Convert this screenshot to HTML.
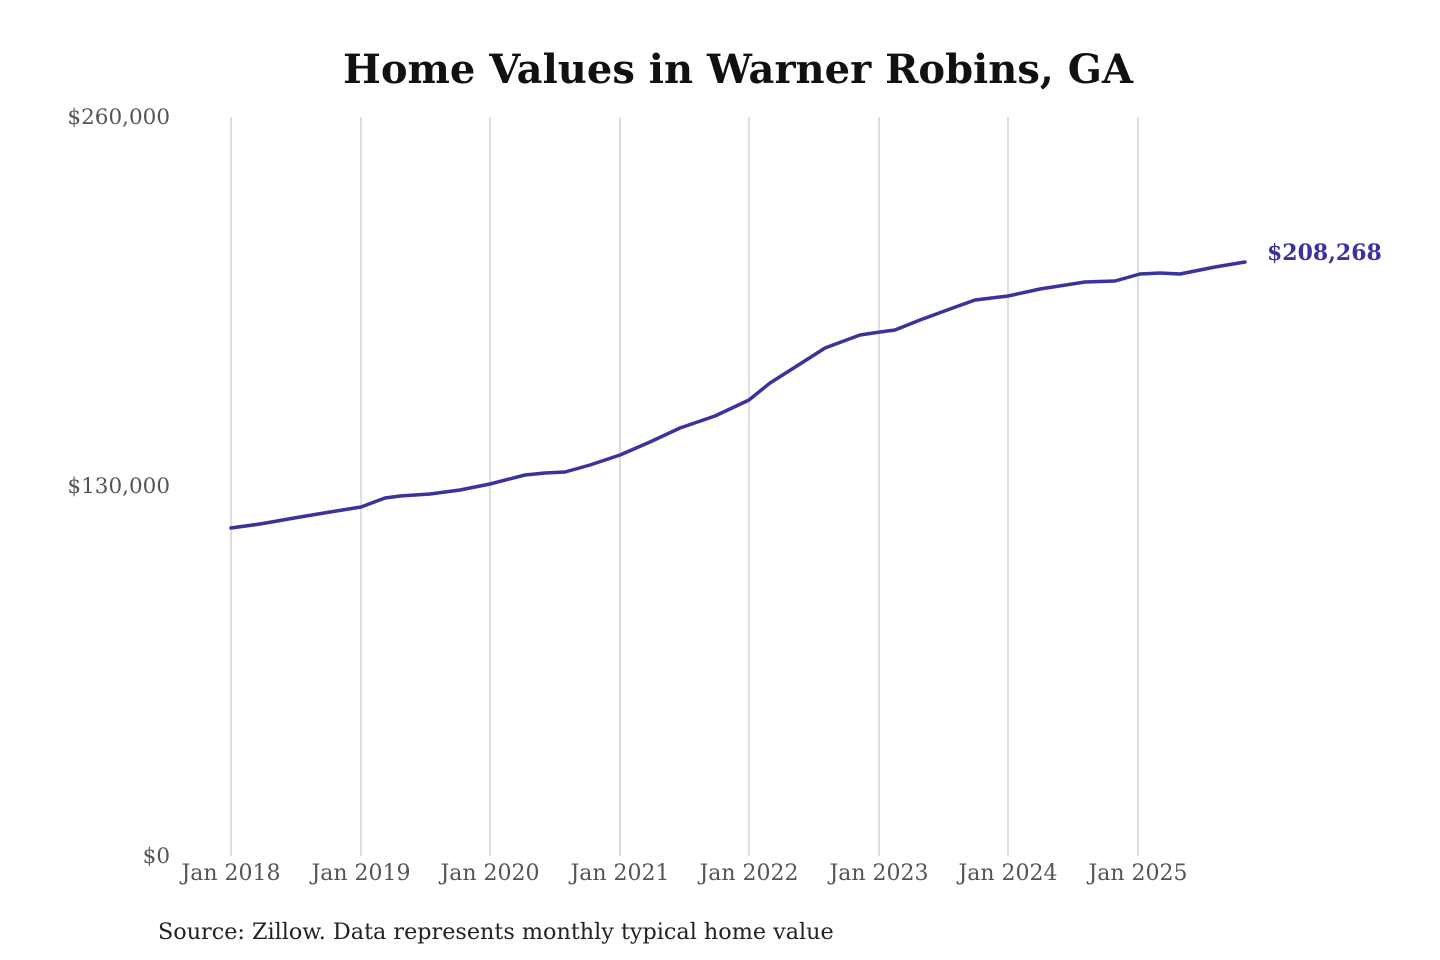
<!DOCTYPE html>
<html><head><meta charset="utf-8"><style>
html,body{margin:0;padding:0;background:#fff;}
svg{display:block;}
</style></head><body>
<svg width="1440" height="960" xmlns="http://www.w3.org/2000/svg" font-family="'DejaVu Serif','Liberation Serif',serif">
<rect width="1440" height="960" fill="#fff"/>
<text x="738" y="83" text-anchor="middle" font-size="40" font-weight="bold" fill="#111" textLength="790" lengthAdjust="spacingAndGlyphs">Home Values in Warner Robins, GA</text>
<g stroke="#c8c8c8" stroke-width="1.2">
<line x1="231" y1="117" x2="231" y2="856"/>
<line x1="361" y1="117" x2="361" y2="856"/>
<line x1="490" y1="117" x2="490" y2="856"/>
<line x1="620" y1="117" x2="620" y2="856"/>
<line x1="749" y1="117" x2="749" y2="856"/>
<line x1="879" y1="117" x2="879" y2="856"/>
<line x1="1008" y1="117" x2="1008" y2="856"/>
<line x1="1138" y1="117" x2="1138" y2="856"/>
</g>
<g font-size="21.5" fill="#555" text-anchor="end">
<text x="170" y="124">$260,000</text>
<text x="170" y="493">$130,000</text>
<text x="170" y="863">$0</text>
</g>
<g font-size="22" fill="#555" text-anchor="middle">
<text x="231" y="880">Jan 2018</text>
<text x="361" y="880">Jan 2019</text>
<text x="490" y="880">Jan 2020</text>
<text x="620" y="880">Jan 2021</text>
<text x="749" y="880">Jan 2022</text>
<text x="879" y="880">Jan 2023</text>
<text x="1008" y="880">Jan 2024</text>
<text x="1138" y="880">Jan 2025</text>
</g>
<polyline fill="none" stroke="#3a339b" stroke-width="3.5" stroke-linejoin="round" stroke-linecap="round"
points="231,528 260,524 300,517 330,512 361,507 385,498 400,496 430,494 460,490 490,484 525,475 545,473 565,472 590,465 620,455 650,442 680,428 715,416 749,400 770,383 800,364 825,348 860,335 880,332 895,330 920,320 950,309 975,300 1008,296 1040,289 1085,282 1115,281 1140,274 1160,273 1180,274 1215,267 1245,262"/>
<text x="1267" y="260" font-size="22" font-weight="bold" fill="#3a339b">$208,268</text>
<text x="158" y="939" font-size="22.3" fill="#222">Source: Zillow. Data represents monthly typical home value</text>
</svg>
</body></html>
